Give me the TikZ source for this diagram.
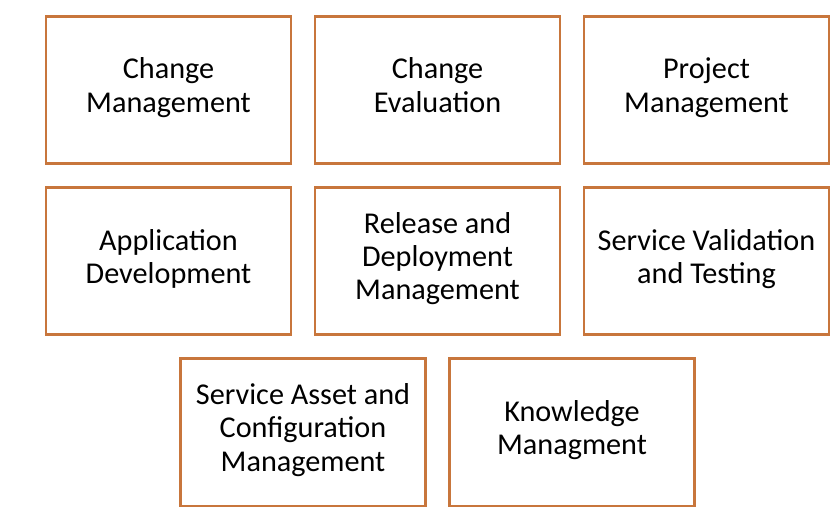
\documentclass[tikz,border=0pt]{standalone}
\usepackage{fontspec}
\setmainfont{Carlito}
\usepackage{xcolor}
\usetikzlibrary{positioning,calc}
\definecolor{boxorange}{RGB}{200,118,60}

\begin{document}
\begin{tikzpicture}[node distance=0.6cm, auto]

\tikzstyle{box} = [rectangle, minimum width=6.125cm, minimum height=3.68cm, align=center, draw=boxorange, line width=2.1pt, outer sep=0pt, font=\fontsize{21.5}{23.6}\selectfont, execute at begin node=\strut, execute at end node=\strut]

\useasboundingbox (0,0) rectangle (20.875,-13.175);

\node (chm) [box] at (4.2125,-2.25) {Change\\Management};
\node (che) [box, right=of chm] {Change\\Evaluation};
\node (prm) [box, right=of che] {Project\\Management};
\node (app) [box, below=of chm] {Application\\Development};
\node (rdm) [box, right=of app] {Release and\\Deployment\\Management};
\node (svt) [box, right=of rdm] {Service Validation\\and Testing};
\node (sacm) [box, below=of $(app.south)!0.5!(rdm.south)$, anchor=north] {Service Asset and\\Configuration\\Management};
\node (knm) [box, right=of sacm] {Knowledge\\Managment};
\end{tikzpicture}
\end{document}
